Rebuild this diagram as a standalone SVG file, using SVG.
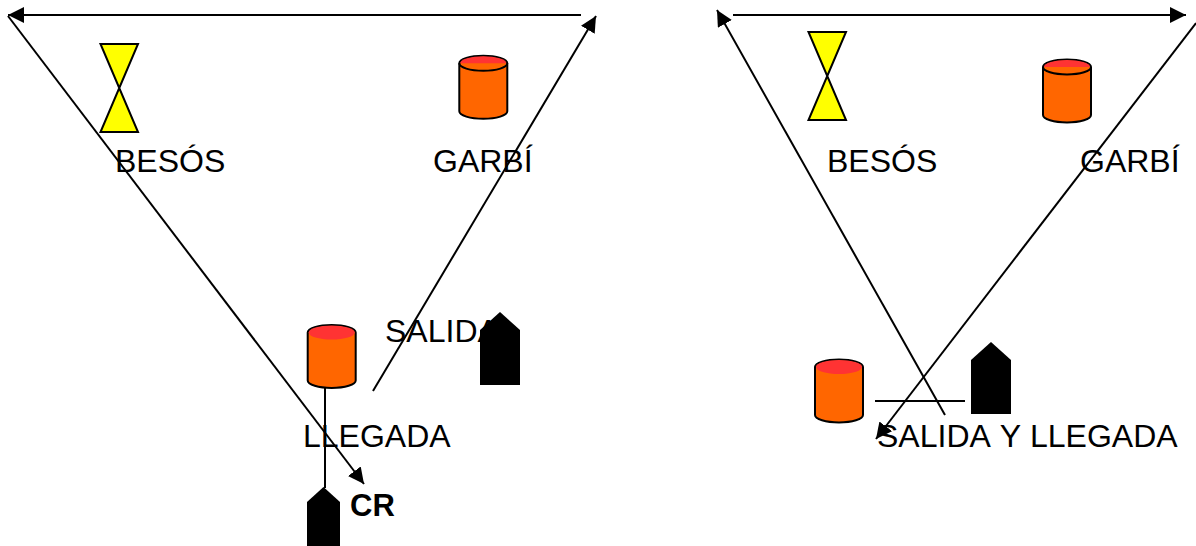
<svg xmlns="http://www.w3.org/2000/svg" width="1196" height="546" viewBox="0 0 1196 546">
<style>
text{font-family:"Liberation Sans",Arial,sans-serif;font-size:32px;fill:#000}
.b{font-weight:bold;font-size:31px}
.n{font-kerning:none}
.l{fill:none;stroke:#000;stroke-width:2}
.y{fill:#ff0;stroke:#000;stroke-width:2}
.o{fill:#f60;stroke:#000;stroke-width:2}
.r{fill:#f33}
.k{fill:#000}
</style>
<defs>
<marker id="a" markerUnits="userSpaceOnUse" markerWidth="18" markerHeight="18" refX="16" refY="8" orient="auto"><path d="M0 0L16 8L0 16Z" fill="#000"/></marker>
<path id="cyl" class="o" d="M-24 -24V24A24 7.500 0 0 0 24 24V-24A24 7.500 0 0 0 -24 -24Z"/>
<path id="top" class="r" d="M-23 -24A23 7 0 0 1 23 -24Z"/>
<path id="rim" class="l" d="M-24 -24A24 7.500 0 0 0 24 -24"/>
<ellipse id="disc" class="r" cx="0" cy="-24" rx="23" ry="7"/>
</defs>
<rect width="1196" height="546" fill="#fff"/>
<g id="connectors">
<line class="l" x1="581" y1="15" x2="8" y2="15" marker-end="url(#a)"/>
<line class="l" x1="8" y1="16" x2="364" y2="484" marker-end="url(#a)"/>
<line class="l" x1="373" y1="391" x2="596" y2="16" marker-end="url(#a)"/>
<line class="l" x1="325" y1="388" x2="325" y2="488"/>
<line class="l" x1="733" y1="15" x2="1186" y2="15" marker-end="url(#a)"/>
<line class="l" x1="945" y1="415" x2="717" y2="10" marker-end="url(#a)"/>
<line class="l" x1="1196" y1="23" x2="876" y2="439" marker-end="url(#a)"/>
<line class="l" x1="875" y1="401" x2="965" y2="401"/>
</g>
<g id="besos1"><path class="y" d="M100.500 44H138L100.500 132H138Z"/><text x="115" y="172">BESÓS</text></g>
<g id="garbi1"><use href="#cyl" x="483.300" y="87.300"/><use href="#top" x="483.300" y="87.300"/><use href="#rim" x="483.300" y="87.300"/><text x="433" y="172">GARBÍ</text></g>
<g id="llegada1"><use href="#cyl" x="331.700" y="356.500"/><use href="#disc" x="331.700" y="356.500"/><text x="303" y="447">LLEGADA</text></g>
<g id="salida1"><text x="385" y="342">SALIDA</text><path class="k" d="M480 385V330L500 312L520 330V385Z"/></g>
<g id="cr"><path class="k" d="M307 546V502L323.500 487L340 502V546Z"/><text class="b" x="350" y="516">CR</text></g>
<g id="besos2"><path class="y" d="M808.500 32H846L808.500 120H846Z"/><text x="827" y="172">BESÓS</text></g>
<g id="garbi2"><use href="#cyl" x="1067" y="91"/><use href="#top" x="1067" y="91"/><use href="#rim" x="1067" y="91"/><text x="1080" y="172">GARBÍ</text></g>
<g id="salida2"><use href="#cyl" x="839" y="391"/><use href="#disc" x="839" y="391"/><path class="k" d="M971 414V360L991 342L1011 360V414Z"/><text class="n" x="877" y="447">SALIDA Y LLEGADA</text></g>
</svg>
